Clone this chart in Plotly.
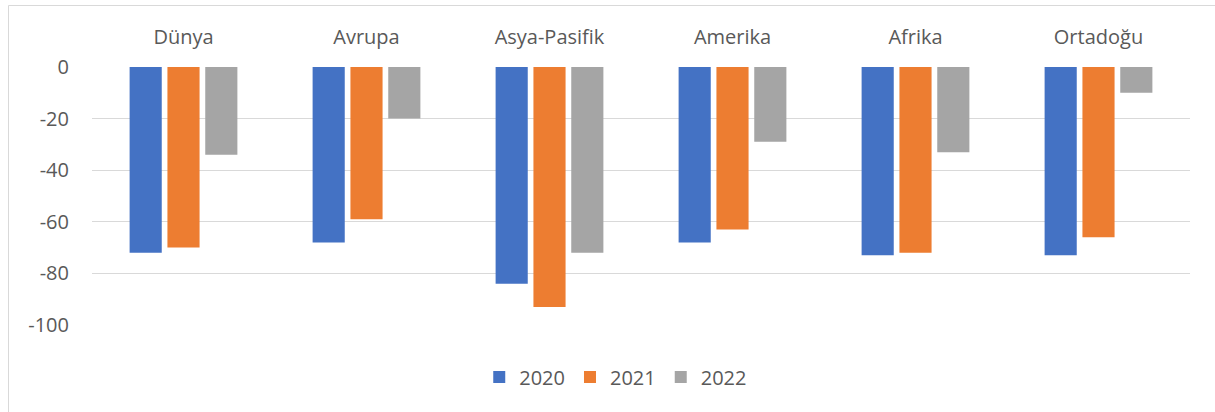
import plotly.graph_objects as go

regions = ["Dünya", "Avrupa", "Asya-Pasifik", "Amerika", "Afrika", "Ortadoğu"]
years = ["2020", "2021", "2022"]
values_2020 = [-72, -68, -84, -68, -73, -73]
values_2021 = [-70, -59, -93, -63, -72, -66]
values_2022 = [-34, -20, -72, -29, -33, -10]
y_ticks = [0, -20, -40, -60, -80, -100]
y_tick_labels = ["0", "-20", "-40", "-60", "-80", "-100"]

colors = ["#4472C4", "#ED7D31", "#A5A5A5"]
series = [values_2020, values_2021, values_2022]

W, H = 1215, 412
ML, MR, MT, MB = 92, 25, 67, 87
pw, ph = W - ML - MR, H - MT - MB

fig = go.Figure()
for name, vals, col in zip(years, series, colors):
    fig.add_trace(go.Bar(x=regions, y=vals, name=name, marker=dict(color=col, line=dict(width=0))))

def px_x(p):
    return (p - ML) / pw

def px_y(p):
    return (H - MB - p) / ph

# outer chart frame
fig.add_shape(type="rect", xref="paper", yref="paper",
              x0=px_x(8.5), x1=px_x(1230), y0=px_y(5.5), y1=px_y(430),
              line=dict(color="#D9D9D9", width=1), fillcolor="rgba(0,0,0,0)", layer="below")

text_color = "#595959"
fs = 20
fig.update_layout(
    width=W, height=H,
    margin=dict(l=ML, r=MR, t=MT, b=MB),
    paper_bgcolor="white", plot_bgcolor="white",
    barmode="group", bargap=0.38, bargroupgap=0.15,
    font=dict(family="Open Sans", size=fs, color=text_color),
    xaxis=dict(side="top", showgrid=False, showline=False, ticks="",
               ticklabelstandoff=18, tickfont=dict(size=fs, color=text_color)),
    yaxis=dict(range=[-100, 0], tickvals=y_ticks, ticktext=y_tick_labels,
               showgrid=True, gridcolor="#D9D9D9",
               gridwidth=1, zeroline=False, showline=False, ticks="",
               ticklabelstandoff=22, tickfont=dict(size=fs, color=text_color)),
    legend=dict(orientation="h", x=0.477, xanchor="center", y=px_y(377), yanchor="middle",
                font=dict(size=fs, color=text_color), itemwidth=30, traceorder="normal"),
    showlegend=True,
)

fig.write_html("out.html")
